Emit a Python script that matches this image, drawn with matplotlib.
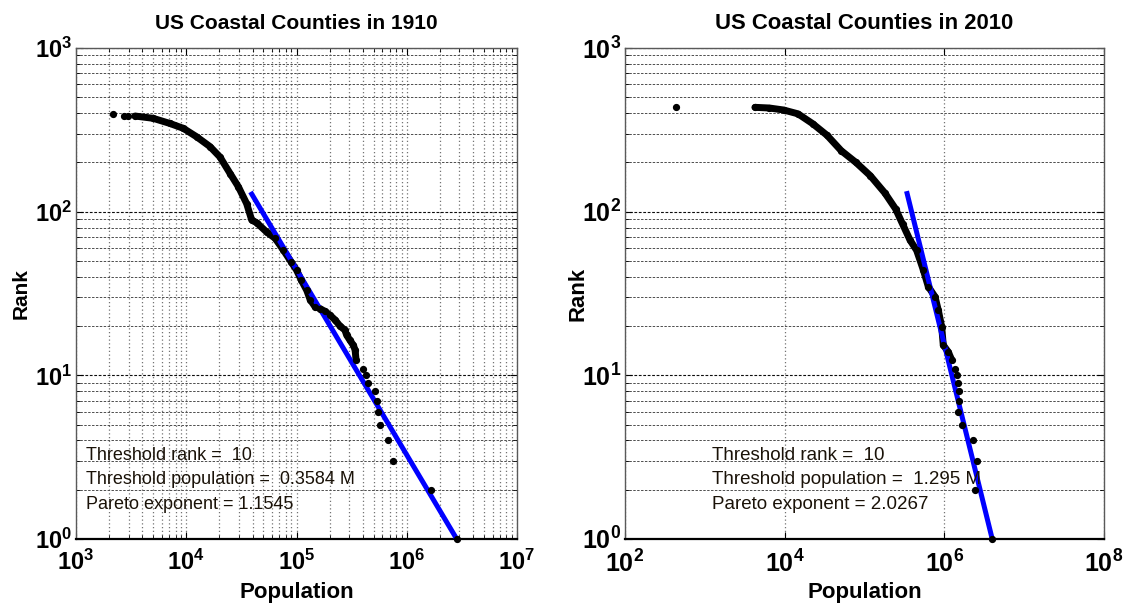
import numpy as np
import matplotlib
matplotlib.use('Agg')
import matplotlib.pyplot as plt
from matplotlib import font_manager
from matplotlib.ticker import FixedLocator, FuncFormatter, LogLocator, NullLocator

# values
pop_1910 = [2.15e3, 2.7e3, 2.95e3, 3.43e3, 5.0e3, 7.1e3, 9.4e3, 1.24e4, 1.64e4, 2.02e4,
            2.5e4, 2.97e4, 3.53e4, 3.92e4, 4.36e4, 5.37e4, 6.4e4, 7.6e4, 9.0e4, 1.0e5,
            1.11e5, 1.24e5, 1.33e5, 1.47e5, 1.63e5, 1.81e5, 2.0e5, 2.24e5, 2.48e5, 2.75e5,
            2.85e5, 3.05e5, 3.27e5, 3.4e5, 3.47e5, 4.03e5, 4.3e5, 4.48e5, 5.15e5, 5.33e5,
            5.5e5, 5.7e5, 6.8e5, 7.55e5, 1.66e6, 2.84e6]
rank_1910 = [393, 385, 384, 384, 372, 346, 323, 287, 250, 216,
             171, 142, 112, 89, 85.5, 75, 68.7, 58.3, 49, 44,
             38, 33, 29, 26.3, 25.6, 24.6, 23.4, 21.8, 20, 18.9,
             17.6, 16.4, 15.3, 14.3, 12.4, 11, 10, 9, 8, 7,
             6, 5, 4, 3, 2, 1]

pop_2010 = [430, 4.24e3, 6.4e3, 9.7e3, 1.47e4, 2.24e4, 3.39e4, 5.1e4, 7.8e4, 1.18e5,
            1.8e5, 2.45e5, 3.0e5, 3.72e5, 4.5e5, 5.46e5, 6.3e5, 7.65e5, 8.4e5, 9.27e5,
            9.7e5, 1.12e6, 1.24e6, 1.36e6, 1.43e6, 1.5e6, 1.54e6, 1.52e6, 1.5e6, 1.65e6,
            2.27e6, 2.54e6, 2.42e6, 3.92e6]
rank_2010 = [434, 434, 430, 418, 396, 345, 293, 236, 200, 166,
             130, 104, 84, 67, 58, 44, 34.8, 30.2, 25, 19.8,
             15.3, 13.9, 12.4, 11, 10, 9, 8, 7, 6, 5,
             4, 3, 2, 1]

fit_pop_1910 = [3.93e4, 2.84e6]
fit_rank_1910 = [128, 1]
fit_pop_2010 = [3.42e5, 3.98e6]
fit_rank_2010 = [129, 1]

xticks_1910 = [1e3, 1e4, 1e5, 1e6, 1e7]
xticks_2010 = [1e2, 1e4, 1e6, 1e8]
yticks = [1e0, 1e1, 1e2, 1e3]

notes_1910 = ['Threshold rank =  10', 'Threshold population =  0.3584 M', 'Pareto exponent = 1.1545']
notes_2010 = ['Threshold rank =  10', 'Threshold population =  1.295 M', 'Pareto exponent = 2.0267']

names = {f.name for f in font_manager.fontManager.ttflist}
narrow = 'Liberation Sans Narrow' if 'Liberation Sans Narrow' in names else 'Liberation Sans'

plt.rcParams['font.family'] = ['Liberation Sans', 'DejaVu Sans']
plt.rcParams['mathtext.fontset'] = 'custom'
plt.rcParams['mathtext.bf'] = narrow + ':bold'
plt.rcParams['mathtext.rm'] = narrow
plt.rcParams['mathtext.it'] = narrow + ':italic'

W, H = 1125, 607
fig = plt.figure(figsize=(W / 100, H / 100), dpi=100)
ax1 = fig.add_axes([76 / W, 1 - 539 / H, 441 / W, 491 / H])
ax2 = fig.add_axes([625 / W, 1 - 539 / H, 479 / W, 491 / H])

fmt = FuncFormatter(lambda v, p: r'$\mathbf{10^{%d}}$' % round(np.log10(v)))


def draw(ax, pop, rank, fit_pop, fit_rank, xlim, xticks, notes, note_x, note_size, scale):
    pop = np.array(pop)
    rank = np.array(rank)
    dense = (pop >= 3.4e3) & (rank >= 12)
    ax.plot(pop[dense], rank[dense], color='black', lw=5, solid_capstyle='round', zorder=3)
    ax.plot(fit_pop, fit_rank, color='#0000ff', lw=3.6, zorder=4)
    ax.plot(pop, rank, 'o', color='black', ms=4.2, mec='black', zorder=5, clip_on=False)

    ax.set_xscale('log')
    ax.set_yscale('log')
    ax.set_xlim(xlim)
    ax.set_ylim(1, 1e3)
    ax.xaxis.set_major_locator(FixedLocator(xticks))
    ax.yaxis.set_major_locator(FixedLocator(yticks))
    ax.xaxis.set_major_formatter(fmt)
    ax.yaxis.set_major_formatter(fmt)
    ax.yaxis.set_minor_locator(LogLocator(base=10, subs=np.arange(2, 10)))
    ax.tick_params(which='both', direction='in', top=True, right=True, colors='black')
    ax.tick_params(which='major', length=5, labelsize=17 * scale, pad=3)
    ax.tick_params(axis='x', which='major', pad=8)
    ax.tick_params(which='minor', length=3)

    ax.yaxis.grid(True, which='major', ls=(0, (2.5, 1.5)), color='0.05', lw=0.8)
    ax.yaxis.grid(True, which='minor', ls=(0, (2.5, 1.5)), color='0.3', lw=0.7)
    for s in ['top', 'right', 'left']:
        ax.spines[s].set_color('0.35')
        ax.spines[s].set_linewidth(1.0)
    ax.spines['bottom'].set_linewidth(1.6)
    ax.spines['bottom'].set_color('black')
    ax.set_axisbelow(True)

    for i, t in enumerate(notes):
        ax.text(note_x, 0.171 - 0.05 * i, t, transform=ax.transAxes, fontsize=note_size,
                va='center', ha='left', color='#1a1208', zorder=6)


draw(ax1, pop_1910, rank_1910, fit_pop_1910, fit_rank_1910, (1e3, 1e7), xticks_1910,
     notes_1910, 0.023, 13, 1.0)
ax1.xaxis.set_minor_locator(LogLocator(base=10, subs=np.arange(2, 10)))
ax1.xaxis.grid(True, which='both', ls=(0, (1, 2)), color='0.45', lw=0.9)

draw(ax2, pop_2010, rank_2010, fit_pop_2010, fit_rank_2010, (1e2, 1e8), xticks_2010,
     notes_2010, 0.182, 13.5, 1.06)
ax2.xaxis.set_minor_locator(NullLocator())
ax2.xaxis.grid(True, which='major', ls=(0, (1, 2)), color='0.45', lw=0.9)

for ax, title, sc, ylx in [(ax1, 'US Coastal Counties in 1910', 1.0, -0.125),
                           (ax2, 'US Coastal Counties in 2010', 1.06, -0.098)]:
    ax.set_title(title, fontsize=15 * sc, fontweight='bold', family=[narrow, 'DejaVu Sans'], pad=14)
    ax.set_xlabel('Population', fontsize=16, fontweight='bold', family=[narrow, 'DejaVu Sans'])
    ax.xaxis.set_label_coords(0.5, -0.088)
    ax.set_ylabel('Rank', fontsize=15 * sc, fontweight='bold', va='center')
    ax.yaxis.set_label_coords(ylx, 0.5)

fig.savefig('out.png', dpi=100)
